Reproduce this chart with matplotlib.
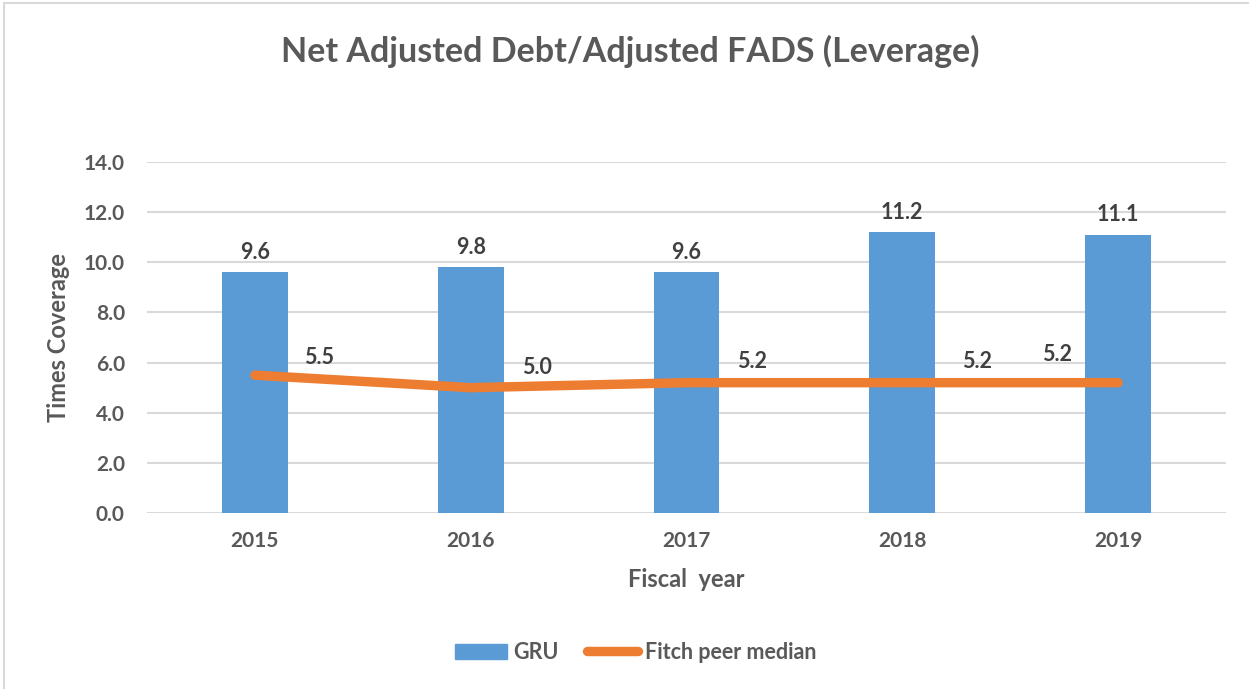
import matplotlib.pyplot as plt
from matplotlib.lines import Line2D
from matplotlib.patches import Patch, Rectangle

years = ['2015', '2016', '2017', '2018', '2019']
gru = [9.6, 9.8, 9.6, 11.2, 11.1]
fitch_median = [5.5, 5.0, 5.2, 5.2, 5.2]
y_ticks = [0, 2, 4, 6, 8, 10, 12, 14]

BLUE = '#5B9BD5'
ORANGE = '#ED7D31'
TXT = '#595959'
LBL = '#404040'
FONT = 'Lato'

fig = plt.figure(figsize=(12.49, 6.89), dpi=100)
ax = fig.add_axes([0.1177, 0.2554, 0.8639, 0.5094])

x = list(range(len(years)))
ax.bar(x, gru, width=0.305, color=BLUE, zorder=2)
ax.plot(x, fitch_median, color=ORANGE, lw=6.8, solid_capstyle='round',
        solid_joinstyle='round', zorder=3)

# data labels
for xi, v in zip(x, gru):
    ax.annotate(f'{v:.1f}', (xi, v), xytext=(0, 7), textcoords='offset points',
                ha='center', va='bottom', fontsize=15.5, fontweight='bold',
                color=LBL, family=FONT)
offsets = [(46, 5), (48, 7), (47, 8), (54, 8), (-44, 13)]
for xi, v, off in zip(x, fitch_median, offsets):
    ax.annotate(f'{v:.1f}', (xi, v), xytext=off, textcoords='offset points',
                ha='center', va='bottom', fontsize=15.5, fontweight='bold',
                color=LBL, family=FONT)

ax.set_xlim(-0.5, len(years) - 0.5)
ax.set_ylim(0, 14)
ax.set_yticks(y_ticks)
ax.set_yticklabels([f'{t:.1f}' for t in y_ticks])
ax.set_xticks(x)
ax.set_xticklabels(years)
for lab in ax.get_xticklabels() + ax.get_yticklabels():
    lab.set_fontsize(15)
    lab.set_fontweight('bold')
    lab.set_color(TXT)
    lab.set_family(FONT)
ax.tick_params(axis='both', length=0)
ax.tick_params(axis='x', pad=13)
ax.tick_params(axis='y', pad=16)
ax.grid(axis='y', color='#D9D9D9', lw=1.5, zorder=0)
ax.set_axisbelow(True)
for s in ax.spines.values():
    s.set_visible(False)

ax.set_ylabel('Times Coverage', fontsize=17, fontweight='bold', color=TXT,
              family=FONT, labelpad=10)
ax.set_xlabel('Fiscal  year', fontsize=17, fontweight='bold', color=TXT,
              family=FONT, labelpad=12)

fig.text(0.505, 0.925, 'Net Adjusted Debt/Adjusted FADS (Leverage)',
         ha='center', va='center', fontsize=24.5, fontweight='bold',
         color=TXT, family=FONT)

handles = [Patch(color=BLUE), Line2D([0], [0], color=ORANGE, lw=6.8,
                                     solid_capstyle='round')]
leg = fig.legend(handles, ['GRU', 'Fitch peer median'], loc='center',
                 bbox_to_anchor=(0.509, 0.053), ncol=2, frameon=False,
                 handlelength=2.4, columnspacing=1.3, handletextpad=0.3,
                 prop={'family': FONT, 'weight': 'bold', 'size': 15.5})
for t in leg.get_texts():
    t.set_color(TXT)

# outer chart border
fig.patches.append(Rectangle((0.003, -0.01), 1.2, 1.005, transform=fig.transFigure,
                             fill=False, edgecolor='#D9D9D9', lw=1.5))

fig.savefig('out.png', dpi=100)
